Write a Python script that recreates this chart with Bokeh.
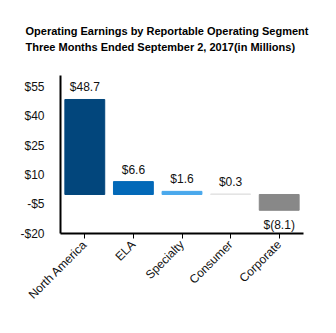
import math
from bokeh.plotting import figure
from bokeh.models import ColumnDataSource, FixedTicker, Title, Range1d
from bokeh.core.properties import value
from bokeh.embed import file_html
from bokeh.resources import INLINE

segments = ["North America", "ELA", "Specialty", "Consumer", "Corporate"]
earnings = [48.7, 6.6, 1.6, 0.3, -8.1]
value_labels = ["$48.7", "$6.6", "$1.6", "$0.3", "$(8.1)"]
bar_colors = ["#02467c", "#0369b8", "#4aa8ec", "#e4e4e4", "#888888"]
y_ticks = [-20, -5, 10, 25, 40, 55]
y_tick_labels = ["-$20", "-$5", "$10", "$25", "$40", "$55"]
title_lines = ["Operating Earnings by Reportable Operating Segment",
               "Three Months Ended September 2, 2017(in Millions)"]

FONT = "Liberation Sans"

src = ColumnDataSource(dict(
    seg=segments, color=bar_colors,
    top=[max(v, 0) for v in earnings], bottom=[min(v, 0) for v in earnings],
))

p = figure(x_range=segments, y_range=Range1d(-20, 61), width=336, height=333,
           output_backend="svg", toolbar_location=None,
           min_border_left=60, min_border_right=33, min_border_top=75,
           min_border_bottom=100)
p.outline_line_color = None
p.xgrid.visible = False
p.ygrid.visible = False

p.vbar(x="seg", top="top", bottom="bottom", width=0.82, color="color",
       line_color="color", source=src)

pos_src = ColumnDataSource(dict(seg=[s for s, v in zip(segments, earnings) if v >= 0],
                                val=[v for v in earnings if v >= 0],
                                lab=[l for l, v in zip(value_labels, earnings) if v >= 0]))
neg_src = ColumnDataSource(dict(seg=[s for s, v in zip(segments, earnings) if v < 0],
                                val=[v for v in earnings if v < 0],
                                lab=[l for l, v in zip(value_labels, earnings) if v < 0]))
p.text(x="seg", y="val", text="lab", source=pos_src, text_align="center",
       text_baseline="bottom", y_offset=-5, text_font_size="12px",
       text_font=value(FONT), text_color="#111111")
p.text(x="seg", y="val", text="lab", source=neg_src, text_align="center",
       text_baseline="top", y_offset=8, text_font_size="12px",
       text_font=value(FONT), text_color="#111111")

p.yaxis.ticker = FixedTicker(ticks=y_ticks)
p.yaxis.major_label_overrides = {t: l for t, l in zip(y_ticks, y_tick_labels)}
p.yaxis.major_tick_line_color = None
p.yaxis.minor_tick_line_color = None
p.yaxis.axis_line_width = 2
p.yaxis.axis_line_color = "black"
p.yaxis.major_label_text_font = FONT
p.yaxis.major_label_text_font_size = "12px"
p.yaxis.major_label_text_color = "#111111"
p.yaxis.major_label_standoff = 10

p.xaxis.axis_line_width = 2
p.xaxis.axis_line_color = "black"
p.xaxis.major_tick_in = 0
p.xaxis.major_tick_out = 5
p.xaxis.major_tick_line_color = "black"
p.xaxis.major_label_orientation = math.pi / 4
p.xaxis.major_label_text_font = FONT
p.xaxis.major_label_text_font_size = "12px"
p.xaxis.major_label_text_color = "#111111"
p.xaxis.major_label_standoff = 4

t = Title(text="\n".join(title_lines), align="left", text_font=FONT,
          text_font_size="11px", text_font_style="bold", standoff=45, offset=-35,
          text_line_height=1.35, text_color="black")
p.add_layout(t, "above")

open("out.html", "w").write(file_html(p, INLINE))
